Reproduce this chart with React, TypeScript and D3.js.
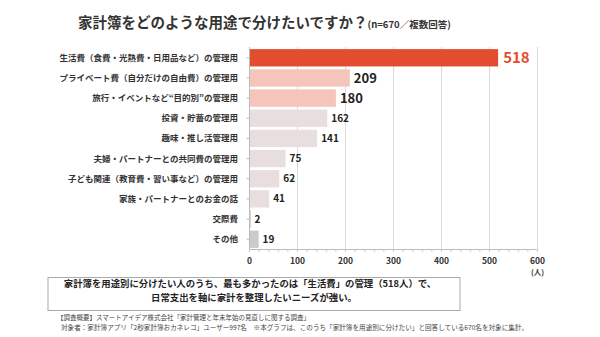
import React from "react";
import * as d3 from "d3";

const categories = [
  "生活費（食費・光熱費・日用品など）の管理用",
  "プライベート費（自分だけの自由費）の管理用",
  "旅行・イベントなど“目的別”の管理用",
  "投資・貯蓄の管理用",
  "趣味・推し活管理用",
  "夫婦・パートナーとの共同費の管理用",
  "子ども関連（教育費・習い事など）の管理用",
  "家族・パートナーとのお金の話",
  "交際費",
  "その他",
];
const values = [518, 209, 180, 162, 141, 75, 62, 41, 2, 19];
const barColors = ["#E34D2F", "#F5C5BB", "#F5C5BB", "#E8DEDE", "#E8DEDE", "#E8DEDE", "#E8DEDE", "#E8DEDE", "#D9D4D4", "#CCCACA"];
const xTicks = [0, 100, 200, 300, 400, 500, 600];

const FONT = "'Noto Sans CJK JP', 'Noto Sans', sans-serif";

export default function App() {
  const W = 600, H = 337;
  const x = d3.scaleLinear().domain([0, 600]).range([249.5, 537.5]);
  const y = d3.scaleBand<string>().domain(categories).range([47.5, 249.5]).paddingInner(0.14).paddingOuter(0.08);
  const minor = d3.range(0, 601, 20);

  return (
    <svg width={W} height={H} style={{ position: "absolute", left: 0, top: 0, background: "#fff" }} fontFamily={FONT}>
      <rect width={W} height={H} fill="#fff" />
      <text x={78} y={28} textAnchor="start" fontWeight={700} fill="#333">
        <tspan fontSize={14.5}>家計簿をどのような用途で分けたいですか？</tspan>
        <tspan fontSize={9.5}>(n=670／複数回答)</tspan>
      </text>
      {xTicks.slice(1).map((t) => (
        <line key={t} x1={x(t)} x2={x(t)} y1={47} y2={249.5} stroke="#DADADA" strokeWidth={1} />
      ))}
      {categories.map((c, i) => (
        <g key={c}>
          <rect x={x(0)} y={y(c)!} width={Math.max(x(values[i]) - x(0), 1.5)} height={y.bandwidth()} fill={barColors[i]} />
          <text x={238} y={y(c)! + y.bandwidth() / 2} dy="0.35em" textAnchor="end" fontSize={8.5} fontWeight={700} fill="#333">{c}</text>
          <text
            x={x(values[i]) + (i === 0 ? 5 : 4)}
            y={y(c)! + y.bandwidth() / 2}
            dy="0.36em"
            fontSize={i === 0 ? 15 : i < 3 ? 13 : 10}
            fontWeight={700}
            fill={i === 0 ? "#E34D2F" : "#222"}
          >{values[i]}</text>
          <line x1={x(0) - 3} x2={x(0)} y1={y(c)! + y.bandwidth() / 2} y2={y(c)! + y.bandwidth() / 2} stroke="#bbb" />
        </g>
      ))}
      <line x1={x(0)} x2={x(0)} y1={47} y2={249.5} stroke="#bbb" />
      <line x1={x(0)} x2={x(600)} y1={249.5} y2={249.5} stroke="#bbb" />
      {minor.map((t) => (
        <line key={t} x1={x(t)} x2={x(t)} y1={249.5} y2={252} stroke="#ccc" />
      ))}
      {xTicks.map((t) => (
        <text key={t} x={x(t)} y={264} textAnchor="middle" fontSize={8.5} fontWeight={700} fill="#333">{t}</text>
      ))}
      <text x={x(600)} y={275} textAnchor="middle" fontSize={7.5} fontWeight={700} fill="#333">(人)</text>
      <rect x={48} y={277.5} width={412} height={33} fill="#fff" stroke="#AAAAAA" strokeWidth={1} />
      <text x={250} y={287} textAnchor="middle" fontSize={9.4} fontWeight={700} fill="#222">家計簿を用途別に分けたい人のうち、最も多かったのは「生活費」の管理（518人）で、</text>
      <text x={254} y={301} textAnchor="middle" fontSize={9.4} fontWeight={700} fill="#222">日常支出を軸に家計を整理したいニーズが強い。</text>
      <text x={57} y={320} fontSize={6.5} fill="#444">【調査概要】スマートアイデア株式会社「家計管理と年末年始の見直しに関する調査」</text>
      <text x={61} y={330} fontSize={6.6} fill="#444">対象者：家計簿アプリ「2秒家計簿おカネレコ」ユーザー997名　※本グラフは、このうち「家計簿を用途別に分けたい」と回答している670名を対象に集計。</text>
    </svg>
  );
}
